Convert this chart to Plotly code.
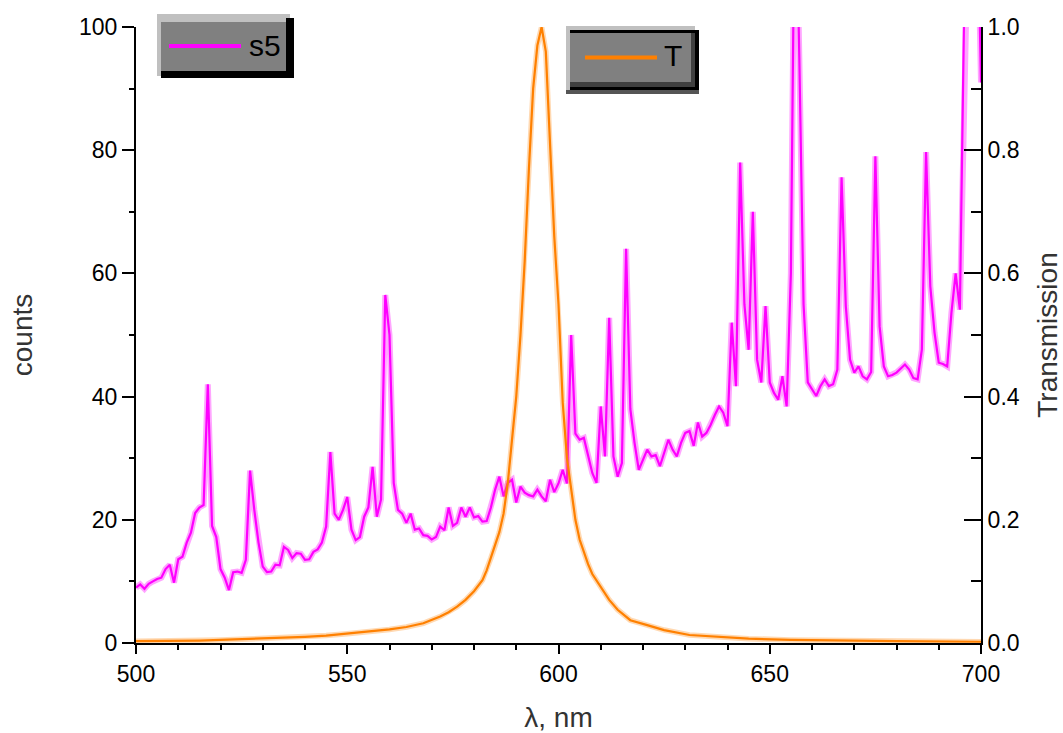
import plotly.graph_objects as go

# ---------------- data ----------------
wavelength = list(range(500, 701))  # nm, 1 nm sampling grid of the s5 spectrum

s5_counts = [
    9, 9.5, 8.8, 9.6, 10, 10.4, 10.6, 12, 12.7, 9.8,            # 500-509
    13.6, 14, 16.3, 17.9, 21.1, 22, 22.4, 42, 19, 17.2,         # 510-519
    12, 10.6, 8.6, 11.5, 11.6, 11.4, 13.5, 28, 21.6, 16.3,      # 520-529
    12.4, 11.5, 11.6, 12.7, 12.6, 15.6, 15.1, 13.8, 14.6, 14.5, # 530-539
    13.5, 13.6, 14.8, 15.2, 16.3, 18.9, 31, 21, 20, 21.6,       # 540-549
    23.7, 18.4, 16.7, 17.2, 20.5, 22, 28.6, 20.5, 23.3, 56.5,   # 550-559
    50, 26, 21.6, 21, 19.5, 21, 18.4, 18.6, 17.5, 17.4,         # 560-569
    16.8, 17.2, 18.9, 18.3, 22, 19, 19.5, 22, 20.5, 22,         # 570-579
    20.4, 20.6, 19.7, 19.8, 22, 24.9, 27, 23.8, 26, 26.5,       # 580-589
    22.8, 25.4, 24.4, 24, 23.8, 24.9, 23.8, 23, 26.5, 24.5,     # 590-599
    25.9, 28.1, 25.9, 50, 34, 33, 33.3, 30.3, 27.6, 26,         # 600-609
    38.4, 30.3, 52.8, 30.3, 27, 29.2, 64, 38, 32.5, 28.1,       # 610-619
    29.8, 31.4, 30.3, 30.5, 28.7, 30.9, 33, 31.4, 30.3, 32.5,   # 620-629
    34.1, 34.4, 32, 35.8, 33.5, 34.1, 35.4, 37, 38.4, 37.4,     # 630-639
    35.2, 52, 41.7, 78, 55, 47.6, 70, 46, 42.3, 54.7,           # 640-649
    42.3, 40.6, 39.5, 43.3, 38.4, 60, 130, 95, 55, 42.3,        # 650-659
    41.1, 40.1, 41.7, 42.8, 41.7, 42, 44.4, 75.6, 54.7, 46,     # 660-669
    43.9, 44.9, 43.3, 42.8, 44, 79, 51.4, 44.9, 43.3, 43.5,     # 670-679
    43.9, 44.5, 45.2, 44.4, 43, 42.8, 47.6, 79.7, 57.9, 50.4,   # 680-689
    45.5, 45.3, 44.9, 53.6, 60, 54.1, 150, 150, 150, 125,       # 690-699
    91,                                                         # 700
]

T_wavelength = [
    500, 505, 510, 515, 520, 525, 530, 535, 540, 545,
    550, 555, 560, 564, 568, 572, 574, 576, 578, 580,
    582, 583, 584, 585, 586, 587, 588, 589, 590, 591,
    592, 593, 594, 595, 596, 597, 598, 599, 600, 601,
    602, 603, 604, 605, 606, 607, 608, 610, 612, 614,
    617, 621, 625, 631, 637, 645, 655, 665, 680, 700,
]
T_values = [
    0.003, 0.003, 0.004, 0.004, 0.005, 0.006, 0.007, 0.008, 0.01, 0.012,
    0.015, 0.018, 0.022, 0.026, 0.032, 0.043, 0.05, 0.059, 0.07, 0.084,
    0.102, 0.118, 0.138, 0.158, 0.18, 0.21, 0.26, 0.33, 0.40, 0.50,
    0.62, 0.77, 0.90, 0.97, 1.0, 0.96, 0.80, 0.66, 0.55, 0.39,
    0.30, 0.25, 0.20, 0.168, 0.146, 0.128, 0.112, 0.09, 0.07, 0.054,
    0.037, 0.029, 0.021, 0.013, 0.01, 0.007, 0.005, 0.004, 0.003, 0.002,
]

x_tickvals = [500, 550, 600, 650, 700]
y_left_tickvals = [0, 20, 40, 60, 80, 100]
y_right_tickvals = [0.0, 0.2, 0.4, 0.6, 0.8, 1.0]
y_right_ticktext = ["0.0", "0.2", "0.4", "0.6", "0.8", "1.0"]

series_names = ["s5", "T"]

# ---------------- styling ----------------
W, H = 1063, 733
L, R, T_, B = 136, 981, 27, 643  # plot area in pixels
MAGENTA = "#ff00ff"
ORANGE = "#ff8000"
FONT = "Liberation Sans, Arial, sans-serif"


def px(xp):
    return (xp - L) / (R - L)


def py(yp):
    return (B - yp) / (B - T_)


fig = go.Figure()
# soft halo under the spectrum (the reference lines are slightly blurred)
fig.add_trace(go.Scatter(x=wavelength, y=s5_counts, mode="lines", hoverinfo="skip",
                         line=dict(color="rgba(255,0,255,0.35)", width=6), yaxis="y", showlegend=False))
fig.add_trace(go.Scatter(x=wavelength, y=s5_counts, mode="lines", name=series_names[0],
                         line=dict(color=MAGENTA, width=2.2), yaxis="y", showlegend=False))
fig.add_trace(go.Scatter(x=T_wavelength, y=T_values, mode="lines", hoverinfo="skip",
                         line=dict(color="rgba(255,128,0,0.3)", width=5.5), yaxis="y2", showlegend=False))
fig.add_trace(go.Scatter(x=T_wavelength, y=T_values, mode="lines", name=series_names[1],
                         line=dict(color=ORANGE, width=2.2), yaxis="y2", showlegend=False))

axis_common = dict(showgrid=False, zeroline=False, showline=True, linecolor="black",
                   linewidth=2, tickcolor="black", tickwidth=2, automargin=False,
                   tickfont=dict(family=FONT, size=23, color="black"))

fig.update_layout(
    width=W, height=H,
    margin=dict(l=L, r=W - R, t=T_, b=H - B, pad=0),
    paper_bgcolor="white", plot_bgcolor="white",
    font=dict(family=FONT, color="black"),
    xaxis=dict(range=[500, 700], tickvals=x_tickvals, ticks="outside", ticklen=9,
               minor=dict(dtick=10, tick0=500, ticks="outside", ticklen=5, tickcolor="black", tickwidth=2),
               title=dict(text="λ, nm", font=dict(family=FONT, size=28, color="#333"), standoff=24),
               **axis_common),
    yaxis=dict(range=[0, 100], tickvals=y_left_tickvals, ticks="outside", ticklen=12,
               minor=dict(dtick=10, tick0=0, ticks="outside", ticklen=5, tickcolor="black", tickwidth=2),
               title=dict(text="counts", font=dict(family=FONT, size=28, color="#333"), standoff=38),
               **axis_common),
    yaxis2=dict(range=[0, 1], overlaying="y", side="right", anchor="x",
                tickvals=y_right_tickvals, ticktext=y_right_ticktext, ticks="inside", ticklen=17,
                minor=dict(dtick=0.1, tick0=0, ticks="inside", ticklen=10, tickcolor="black", tickwidth=2),
                title=dict(text="Transmission", font=dict(family=FONT, size=28, color="#333"), standoff=20),
                **axis_common),
)

shapes = []


def rect(x0, y0, x1, y1, color):
    shapes.append(dict(type="rect", xref="paper", yref="paper", layer="above",
                       x0=px(x0), x1=px(x1), y0=py(y0), y1=py(y1),
                       fillcolor=color, line=dict(width=0)))


def hline(x0, x1, y, color):
    shapes.append(dict(type="line", xref="paper", yref="paper", layer="above",
                       x0=px(x0), x1=px(x1), y0=py(y), y1=py(y),
                       line=dict(color=color, width=4)))


# legend box for s5 (bevelled grey box)
rect(157, 14, 290, 76, "#c0c0c0")
rect(286, 18, 294, 78, "black")
rect(161, 71, 294, 78, "black")
rect(161, 22, 286, 71, "#808080")
hline(169, 241, 46, MAGENTA)

# legend box for T
rect(566, 26, 695, 94, "#c0c0c0")
rect(570, 30, 699, 90, "black")
rect(570, 33, 695, 87, "#404040")
rect(570, 33, 691, 82, "#808080")
rect(566, 90, 699, 94, "#555555")
hline(585, 657, 57.5, ORANGE)

fig.update_layout(shapes=shapes)

fig.add_annotation(x=px(265), y=py(45), xref="paper", yref="paper", text=series_names[0],
                   showarrow=False, font=dict(family=FONT, size=30, color="black"),
                   xanchor="center", yanchor="middle")
fig.add_annotation(x=px(673), y=py(56), xref="paper", yref="paper", text=series_names[1],
                   showarrow=False, font=dict(family=FONT, size=30, color="black"),
                   xanchor="center", yanchor="middle")

fig.write_html("out.html")
